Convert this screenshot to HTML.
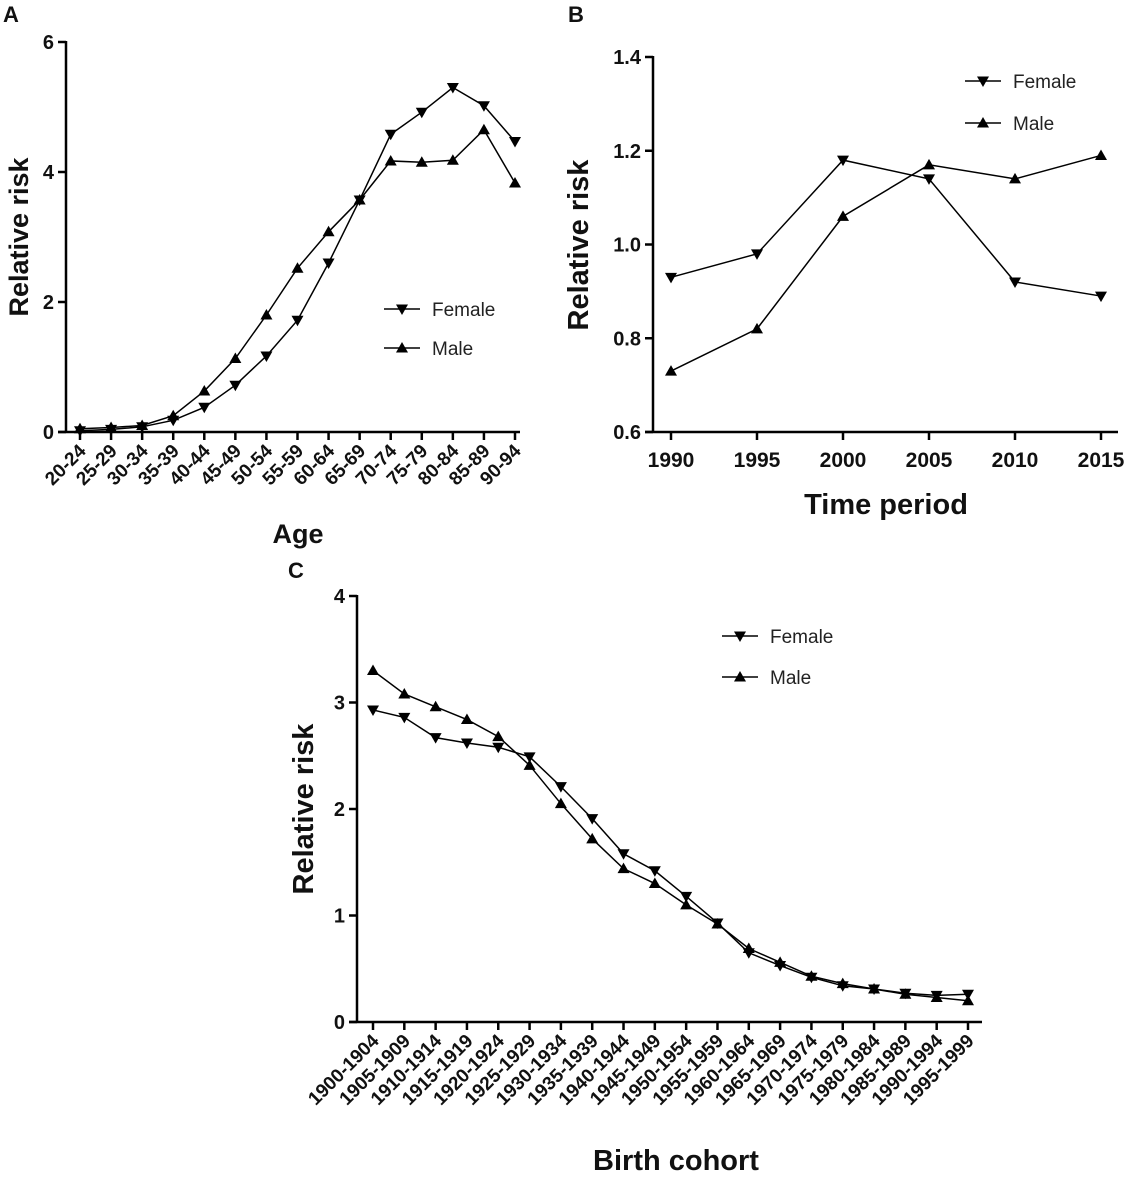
<!DOCTYPE html>
<html><head><meta charset="utf-8"><style>
html,body{margin:0;padding:0;background:#fff;}
svg{display:block;font-family:"Liberation Sans",Arial,sans-serif;}
.tk{font-weight:bold;font-size:20px;fill:#111;}
.tt{font-weight:bold;fill:#111;}
.lg{font-size:19px;fill:#222;}
</style></head><body>
<svg id="fig" width="1130" height="1182" viewBox="0 0 1130 1182"></svg>
<script>
const ageCats=["20-24","25-29","30-34","35-39","40-44","45-49","50-54","55-59","60-64","65-69","70-74","75-79","80-84","85-89","90-94"];
const ageFemale=[0.02,0.04,0.08,0.18,0.38,0.72,1.17,1.72,2.6,3.57,4.58,4.92,5.3,5.02,4.47];
const ageMale=[0.05,0.07,0.1,0.25,0.63,1.13,1.8,2.52,3.08,3.57,4.17,4.15,4.18,4.65,3.83];
const ageYTicks=[0,2,4,6];
const periodCats=["1990","1995","2000","2005","2010","2015"];
const periodFemale=[0.93,0.98,1.18,1.14,0.92,0.89];
const periodMale=[0.73,0.82,1.06,1.17,1.14,1.19];
const periodYTicks=[0.6,0.8,1.0,1.2,1.4];
const cohortCats=["1900-1904","1905-1909","1910-1914","1915-1919","1920-1924","1925-1929","1930-1934","1935-1939","1940-1944","1945-1949","1950-1954","1955-1959","1960-1964","1965-1969","1970-1974","1975-1979","1980-1984","1985-1989","1990-1994","1995-1999"];
const cohortFemale=[2.93,2.86,2.67,2.62,2.58,2.49,2.21,1.91,1.58,1.42,1.18,0.93,0.65,0.53,0.42,0.34,0.31,0.27,0.25,0.26];
const cohortMale=[3.30,3.08,2.96,2.84,2.68,2.41,2.05,1.72,1.44,1.30,1.10,0.92,0.69,0.56,0.43,0.36,0.31,0.26,0.23,0.20];
const cohortYTicks=[0,1,2,3,4];

const NS="http://www.w3.org/2000/svg";
const svg=document.getElementById('fig');
function el(t,a,p){const e=document.createElementNS(NS,t);for(const k in a)e.setAttribute(k,a[k]);(p||svg).appendChild(e);return e;}
function tri(g,x,y,down,s){const h=s;const p=down?`${x-h},${y-h*0.75} ${x+h},${y-h*0.75} ${x},${y+h}`:`${x-h},${y+h*0.75} ${x+h},${y+h*0.75} ${x},${y-h}`;return el('polygon',{points:p,fill:'#000'},g);}
function panel(o){
  const g=el('g',{});
  
  
  const ys=v=>o.y0-(v-o.ymin)/(o.ymax-o.ymin)*(o.y0-o.y1);
  const xs=i=>o.xf+i*(o.xl-o.xf)/(o.cats.length-1);
  const ya=el('line',{x1:o.ax,y1:o.y1-1,x2:o.ax,y2:o.y0,stroke:'#000','stroke-width':2.5},g);
  
  const xa=el('line',{x1:o.ax-8,y1:o.y0,x2:o.xend,y2:o.y0,stroke:'#000','stroke-width':2.5},g);
  
  o.yt.forEach(v=>{const y=ys(v);el('line',{x1:o.ax-8,y1:y,x2:o.ax,y2:y,stroke:'#000','stroke-width':2.5},g);
    const t=el('text',{x:o.ax-12,y:y+7,'text-anchor':'end',class:'tk'},g);t.textContent=o.fmt(v);
    });
  o.cats.forEach((c,i)=>{const x=xs(i);el('line',{x1:x,y1:o.y0,x2:x,y2:o.y0+8,stroke:'#000','stroke-width':2.5},g);
    let t;
    if(o.rot){t=el('text',{x:x+7,y:o.y0+20,'text-anchor':'end',class:'tk',style:'font-size:19px',transform:`rotate(-45 ${x+7} ${o.y0+20})`},g);}
    else{t=el('text',{x:x,y:o.y0+35,'text-anchor':'middle',class:'tk',style:'font-size:21px'},g);}
    t.textContent=c;});
  [[o.f,true,'female'],[o.m,false,'male']].forEach(([d,down,n])=>{
    const l=el('polyline',{points:d.map((v,i)=>xs(i)+','+ys(v)).join(' '),fill:'none',stroke:'#000','stroke-width':1.5},g);
    
    d.forEach((v,i)=>{const m=tri(g,xs(i),ys(v),down,o.ms);
      });
  });
  [['Female',true,o.lg[1]],['Male',false,o.lg[2]]].forEach(([n,down,y])=>{
    el('line',{x1:o.lg[0]-18,y1:y,x2:o.lg[0]+18,y2:y,stroke:'#000','stroke-width':1.5},g);
    tri(g,o.lg[0],y,down,o.ms);
    const t=el('text',{x:o.lg[0]+30,y:y+7,class:'lg'},g);t.textContent=n;
    });
  const yl=el('text',{x:o.ylt[0],y:o.ylt[1],'text-anchor':'middle',class:'tt',style:`font-size:${o.fs}px`,transform:`rotate(-90 ${o.ylt[0]} ${o.ylt[1]})`},g);
  yl.textContent='Relative risk';
  const xl=el('text',{x:o.xlt[0],y:o.xlt[1],'text-anchor':'middle',class:'tt',style:`font-size:${o.fs}px`},g);
  xl.textContent=o.xtitle;
  const pl=el('text',{x:o.pl[0],y:o.pl[1],class:'tt',style:'font-size:22px'},g);
  pl.textContent=o.letter;
}
panel({name:'panel-a-age',cats:ageCats,f:ageFemale,m:ageMale,yt:ageYTicks,ymin:0,ymax:6,y0:432,y1:42,ax:66,xf:80,xl:515,xend:520,rot:true,fmt:v=>String(v),ms:6,lg:[402,309,348],ylt:[28,237],xlt:[298,543],xtitle:'Age',fs:27,pl:[3,22],letter:'A'});
panel({name:'panel-b-period',cats:periodCats,f:periodFemale,m:periodMale,yt:periodYTicks,ymin:0.6,ymax:1.4,y0:432,y1:57,ax:653,xf:671,xl:1101,xend:1118,rot:false,fmt:v=>v.toFixed(1),ms:6,lg:[983,81,123],ylt:[588,245],xlt:[886,514],xtitle:'Time period',fs:29,pl:[568,22],letter:'B'});
panel({name:'panel-c-cohort',cats:cohortCats,f:cohortFemale,m:cohortMale,yt:cohortYTicks,ymin:0,ymax:4,y0:1022,y1:596,ax:357,xf:373,xl:968,xend:982,rot:true,fmt:v=>String(v),ms:6,lg:[740,636,677],ylt:[313,809],xlt:[676,1170],xtitle:'Birth cohort',fs:29,pl:[288,578],letter:'C'});
</script>
</body></html>
